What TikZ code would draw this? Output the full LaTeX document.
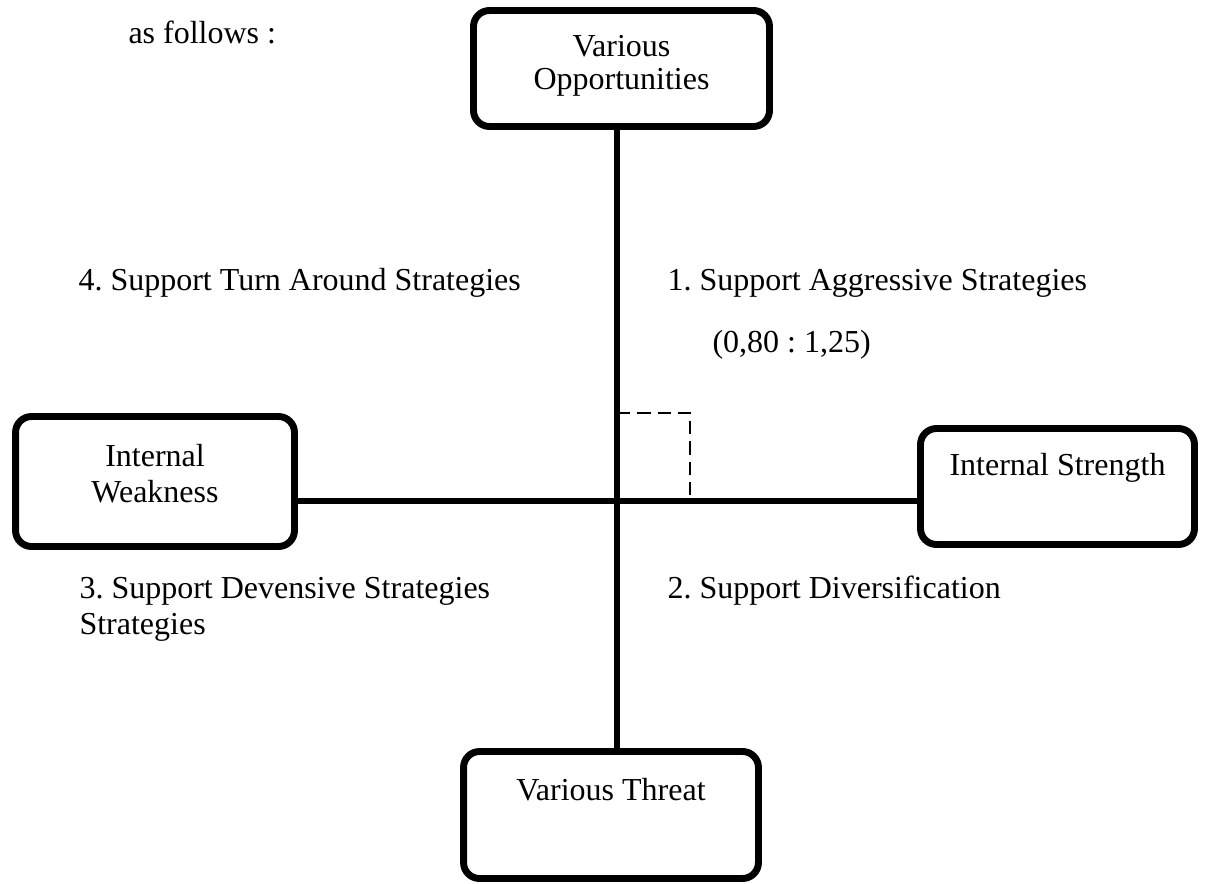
\documentclass[tikz,border=0pt]{standalone}
\usepackage{fontspec}
\setmainfont{Liberation Serif}
\frenchspacing
\tikzset{
  box/.style={draw, line width=2.6pt, rounded corners=6pt, inner sep=0pt, align=center, font=\fontsize{12}{13.5}\selectfont},
  link/.style={line width=2.6pt},
  guide/.style={line width=1pt, dash pattern=on 5pt off 2.6pt},
  lbl/.style={anchor=base west, inner sep=0pt, align=left, font=\fontsize{12}{13.5}\selectfont}
}
\begin{document}
\begin{tikzpicture}[x=0.375pt,y=-0.375pt]
\useasboundingbox (0,0) rectangle (1208,883);

\node[box, minimum width=111pt, text height=29.81pt, text depth=13.69pt, font=\fontsize{12}{12.5}\selectfont] (opp) at (621.5,68.5) {Various\\Opportunities};
\node[box, minimum width=104.6pt, text height=32.06pt, text depth=16.69pt] (weak) at (155,481.5) {Internal\\Weakness};
\node[box, minimum width=102.75pt, text height=17.44pt, text depth=26.06pt] (str) at (1057.5,486.5) {Internal Strength};
\node[box, minimum width=110.6pt, text height=18.19pt, text depth=29.44pt] (thr) at (611,815) {Various Threat};

\coordinate (cross) at (617,501);
\coordinate (corner) at (690,413);

\draw[link] (opp.south -| cross) -- (thr.north -| cross);
\draw[link] (weak.east |- cross) -- (str.west |- cross);
\draw[guide] (cross |- corner) -- (corner) -- (corner |- cross);

\node[lbl] (follows) at (128,43) {as follows :};
\node[lbl] (q4) at (78,290) {4. Support Turn Around Strategies};
\node[lbl] (q1) at (667,290) {1. Support Aggressive Strategies};
\node[lbl] (ratio) at (712,352) {(0,80 : 1,25)};
\node[lbl] (q3) at (79,634) {3. Support Devensive Strategies\\Strategies};
\node[lbl] (q2) at (667,598) {2. Support Diversification};
\end{tikzpicture}
\end{document}
